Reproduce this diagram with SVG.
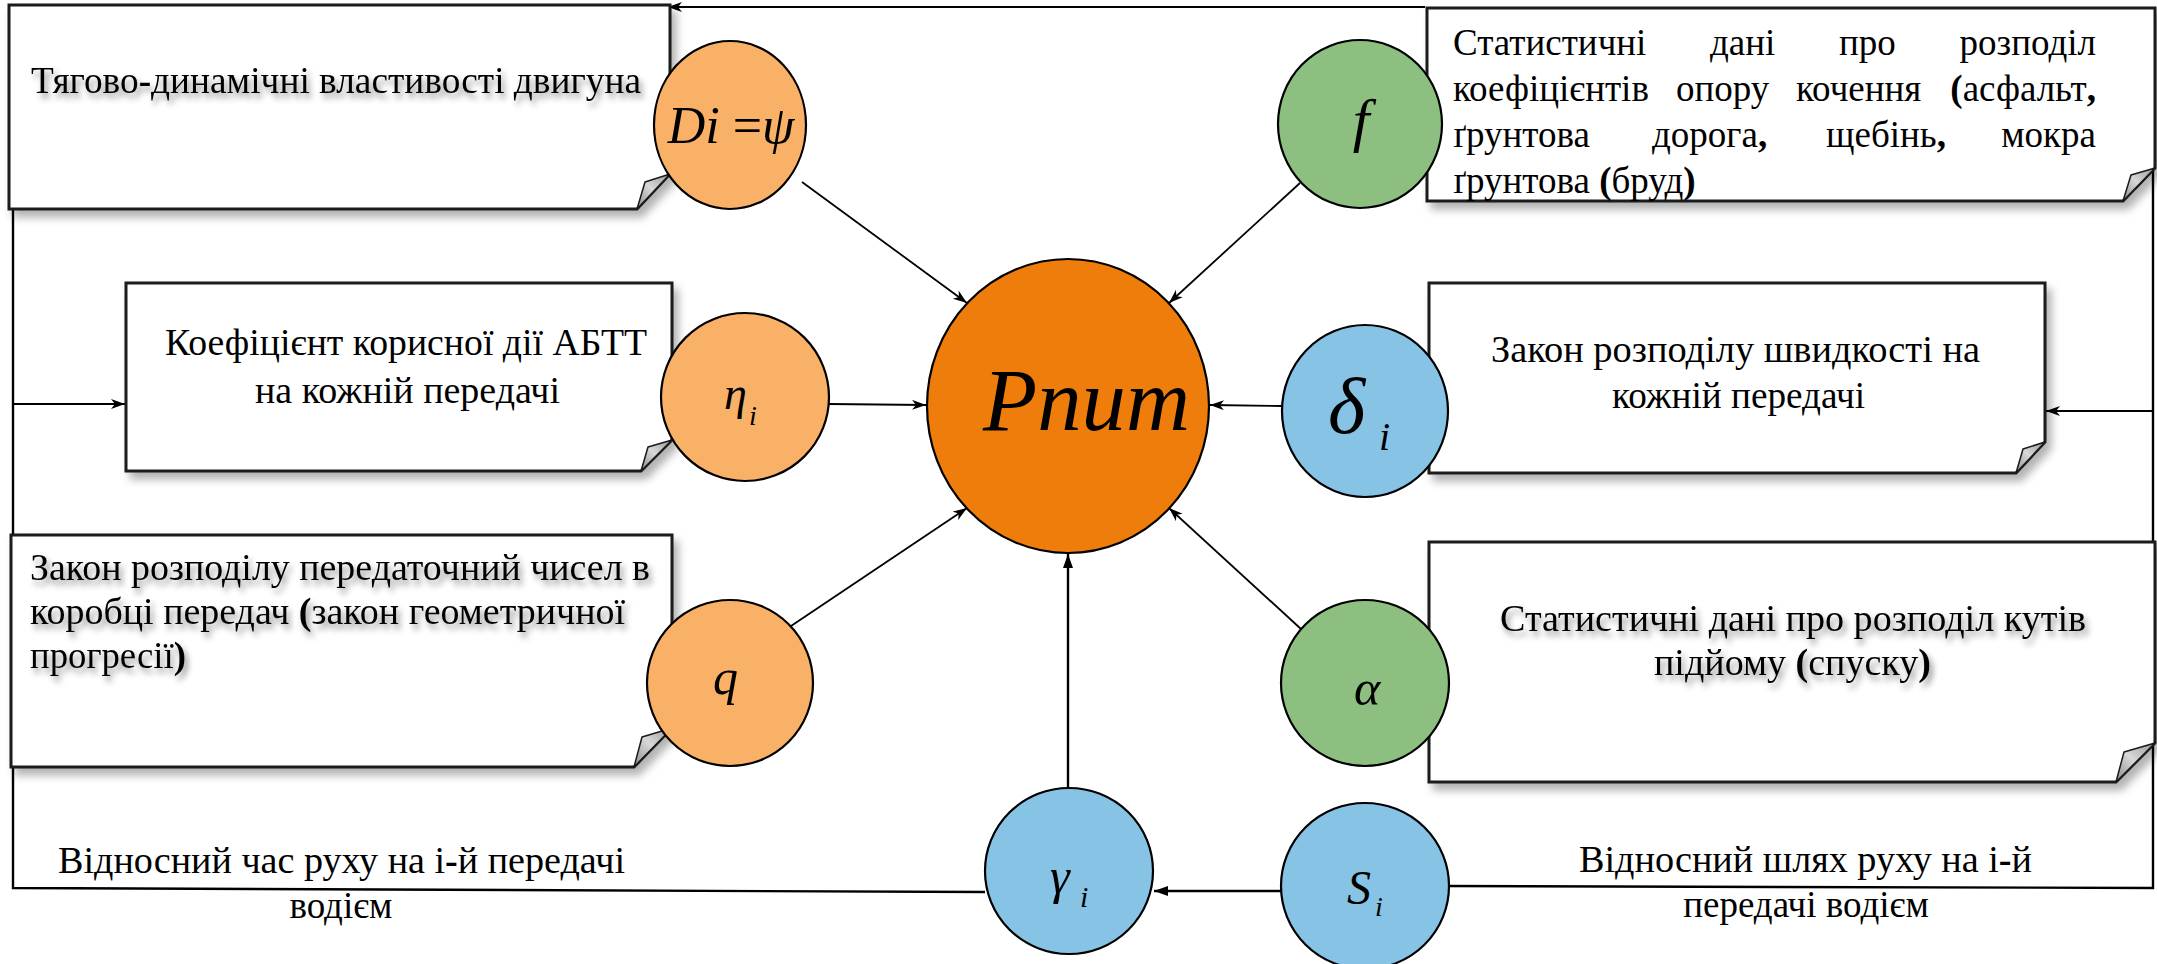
<svg xmlns="http://www.w3.org/2000/svg" width="2157" height="964" viewBox="0 0 2157 964">
<defs>
<style>
text{font-family:"Liberation Serif",Tinos,"Times New Roman",Times,"Nimbus Roman","Noto Serif","DejaVu Serif",FreeSerif,serif}
.box{fill:#fff;stroke:#1a1a1a;stroke-width:3;filter:url(#sh)}
.fold{fill:url(#fg);stroke:#1a1a1a;stroke-width:1.5;stroke-linejoin:round}
.t{font-size:37px;fill:#000}
.tsh{filter:url(#tshadow)}
.b{font-weight:bold}
.m{font-style:italic;fill:#000}
.mr{font-style:normal}
.ell{stroke:#000;stroke-width:2.2}
.lo{fill:#F9B168}
.po{fill:#EF7D0B}
.gr{fill:#8CBF80}
.bl{fill:#86C3E5}
.c{fill:none;stroke:#000;stroke-width:1.8}
.c2{fill:none;stroke:#000;stroke-width:2.4}
</style>
<filter id="sh" x="-5%" y="-5%" width="115%" height="125%">
<feDropShadow dx="5" dy="7" stdDeviation="4" flood-color="#000" flood-opacity="0.3"/>
</filter>
<filter id="tshadow" x="-5%" y="-30%" width="115%" height="170%">
<feDropShadow dx="3" dy="5" stdDeviation="3" flood-color="#000" flood-opacity="0.45"/>
</filter>
<linearGradient id="fg" x1="0" y1="1" x2="1" y2="0">
<stop offset="0" stop-color="#8c8c8c"/>
<stop offset="0.5" stop-color="#d8d8d8"/>
<stop offset="1" stop-color="#9a9a9a"/>
</linearGradient>
<marker id="ao" markerUnits="userSpaceOnUse" markerWidth="16" markerHeight="12" refX="14" refY="5" orient="auto">
<path d="M0,0 L14,5 L0,10 L4,5 Z" fill="#000"/>
</marker>
<marker id="af" markerUnits="userSpaceOnUse" markerWidth="16" markerHeight="12" refX="14" refY="5" orient="auto">
<path d="M0,0 L14,5 L0,10 Z" fill="#000"/>
</marker>
</defs>

<rect x="0" y="0" width="2157" height="964" fill="#fff"/>

<g id="connectors">
<line class="c" x1="802" y1="182" x2="967" y2="303" marker-end="url(#ao)"/>
<line class="c" x1="1300" y1="183" x2="1169" y2="303" marker-end="url(#ao)"/>
<line class="c" x1="829" y1="404" x2="926" y2="405" marker-end="url(#ao)"/>
<line class="c" x1="1282" y1="406" x2="1210" y2="405" marker-end="url(#ao)"/>
<line class="c" x1="791" y1="626" x2="967" y2="508" marker-end="url(#ao)"/>
<line class="c" x1="1301" y1="629" x2="1169" y2="508" marker-end="url(#ao)"/>
<line class="c2" x1="1068" y1="788" x2="1068" y2="554" marker-end="url(#af)"/>
<line class="c2" x1="1281" y1="891" x2="1154" y2="891" marker-end="url(#af)"/>
<polyline class="c2" points="985,892 13,888 13,170"/>
<line class="c" x1="13" y1="404" x2="125" y2="404" marker-end="url(#ao)"/>
<polyline class="c2" points="1448,886 2153,888 2153,168"/>
<line class="c" x1="2153" y1="411" x2="2046" y2="411" marker-end="url(#ao)"/>
<line class="c" x1="1425" y1="7" x2="668" y2="7" marker-end="url(#ao)"/>
</g>

<g id="box-traction">
<path class="box" d="M9,5 H670 V174 L637,209 H9 Z"/>
<path class="fold" d="M637,209 L645,182 L670,174 Z"/>
<text class="t tsh" x="31" y="93" textLength="610" lengthAdjust="spacingAndGlyphs">Тягово<tspan class="b">-</tspan>динамічні властивості двигуна</text>
</g>

<g id="box-rolling">
<path class="box" d="M1427,8 H2155 V168 L2123,201 H1427 Z"/>
<path class="fold" d="M2123,201 L2131,175 L2155,168 Z"/>
<text class="t" y="55"><tspan x="1453">Статистичні</tspan><tspan x="1710">дані</tspan><tspan x="1839">про</tspan></text>
<text class="t" x="2096" y="55" text-anchor="end">розподіл</text>
<text class="t" y="101"><tspan x="1453">коефіцієнтів</tspan><tspan x="1676">опору</tspan><tspan x="1796">кочення</tspan></text>
<text class="t" x="2096" y="101" text-anchor="end"><tspan class="b">(</tspan>асфальт<tspan class="b">,</tspan></text>
<text class="t" y="147"><tspan x="1453">ґрунтова</tspan><tspan x="1652">дорога<tspan class="b">,</tspan></tspan><tspan x="1826">щебінь<tspan class="b">,</tspan></tspan></text>
<text class="t" x="2096" y="147" text-anchor="end">мокра</text>
<text class="t" x="1453" y="193">ґрунтова <tspan class="b">(</tspan>бруд<tspan class="b">)</tspan></text>
</g>

<g id="box-efficiency">
<path class="box" d="M126,283 H672 V440 L641,471 H126 Z"/>
<path class="fold" d="M641,471 L648,447 L672,440 Z"/>
<text class="t" x="165" y="355" textLength="482" lengthAdjust="spacingAndGlyphs">Коефіцієнт корисної дії АБТТ</text>
<text class="t" x="255" y="403" textLength="305" lengthAdjust="spacingAndGlyphs">на кожній передачі</text>
</g>

<g id="box-speed">
<path class="box" d="M1429,283 H2045 V442 L2016,473 H1429 Z"/>
<path class="fold" d="M2016,473 L2023,449 L2045,442 Z"/>
<text class="t" x="1491" y="362" textLength="489" lengthAdjust="spacingAndGlyphs">Закон розподілу швидкості на</text>
<text class="t" x="1612" y="408" textLength="253" lengthAdjust="spacingAndGlyphs">кожній передачі</text>
</g>

<g id="box-ratios">
<path class="box" d="M11,535 H672 V728 L634,767 H11 Z"/>
<path class="fold" d="M634,767 L642,737 L672,728 Z"/>
<text class="t tsh" x="30" y="580" textLength="620" lengthAdjust="spacingAndGlyphs">Закон розподілу передаточний чисел в</text>
<text class="t tsh" x="30" y="624" textLength="595" lengthAdjust="spacingAndGlyphs">коробці передач <tspan class="b">(</tspan>закон геометричної</text>
<text class="t tsh" x="30" y="668" textLength="156" lengthAdjust="spacingAndGlyphs">прогресії<tspan class="b">)</tspan></text>
</g>

<g id="box-angles">
<path class="box" d="M1429,542 H2155 V743 L2116,782 H1429 Z"/>
<path class="fold" d="M2116,782 L2124,752 L2155,743 Z"/>
<text class="t tsh" x="1500" y="631" textLength="586" lengthAdjust="spacingAndGlyphs">Статистичні дані про розподіл кутів</text>
<text class="t tsh" x="1654" y="675" textLength="277" lengthAdjust="spacingAndGlyphs">підйому <tspan class="b">(</tspan>спуску<tspan class="b">)</tspan></text>
</g>

<g id="label-time">
<text class="t" x="58" y="873" textLength="567" lengthAdjust="spacingAndGlyphs">Відносний час руху на і<tspan class="b">-</tspan>й передачі</text>
<text class="t" x="341" y="918" text-anchor="middle">водієм</text>
</g>

<g id="label-path">
<text class="t" x="1579" y="872" textLength="453" lengthAdjust="spacingAndGlyphs">Відносний шлях руху на і<tspan class="b">-</tspan>й</text>
<text class="t" x="1806" y="917" text-anchor="middle">передачі водієм</text>
</g>

<g id="node-Di">
<ellipse class="ell lo" cx="730" cy="125" rx="76" ry="84"/>
<text class="m" x="731" y="143" font-size="52" text-anchor="middle">Di <tspan class="mr">=</tspan>ψ</text>
</g>

<g id="node-f">
<ellipse class="ell gr" cx="1360" cy="124" rx="82" ry="84"/>
<text class="m" x="1361" y="140" font-size="60" text-anchor="middle">f</text>
</g>

<g id="node-eta">
<ellipse class="ell lo" cx="745" cy="397" rx="84" ry="84"/>
<text class="m" x="724" y="409" font-size="46">η</text>
<text class="m" x="749" y="425" font-size="28">i</text>
</g>

<g id="node-Pnum">
<ellipse class="ell po" cx="1068" cy="406" rx="141" ry="147"/>
<text class="m" x="983" y="430" font-size="88" textLength="207" lengthAdjust="spacingAndGlyphs">Pnum</text>
</g>

<g id="node-delta">
<ellipse class="ell bl" cx="1365" cy="411" rx="83" ry="86"/>
<text class="m" x="1328" y="433" font-size="80">δ</text>
<text class="m" x="1379" y="450" font-size="40">i</text>
</g>

<g id="node-q">
<ellipse class="ell lo" cx="730" cy="683" rx="83" ry="83"/>
<text class="m" x="713" y="694" font-size="50">q</text>
</g>

<g id="node-alpha">
<ellipse class="ell gr" cx="1365" cy="683" rx="84" ry="83"/>
<text class="m" x="1354" y="705" font-size="50">α</text>
</g>

<g id="node-gamma">
<ellipse class="ell bl" cx="1069" cy="871" rx="84" ry="83"/>
<text class="m" x="1050" y="893" font-size="50">γ</text>
<text class="m" x="1080" y="907" font-size="30">i</text>
</g>

<g id="node-S">
<ellipse class="ell bl" cx="1365" cy="886" rx="84" ry="83"/>
<text class="m" x="1347" y="904" font-size="48">S</text>
<text class="m" x="1375" y="916" font-size="28">i</text>
</g>
</svg>
